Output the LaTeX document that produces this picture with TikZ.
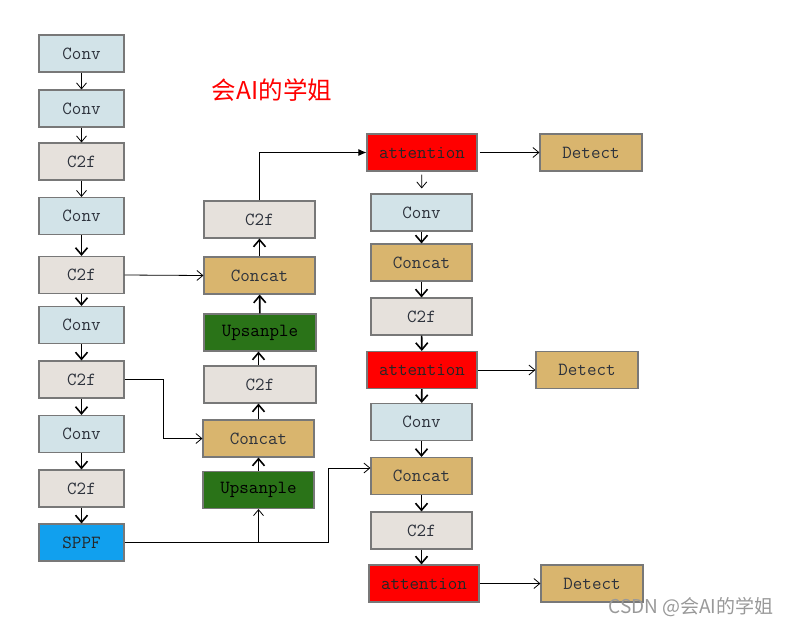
\documentclass[tikz,border=0pt]{standalone}
\usepackage{fontspec}
\newfontfamily\cjk{Noto Sans CJK SC}
\usetikzlibrary{arrows.meta}
\definecolor{convc}{RGB}{210,227,232}
\definecolor{cfc}{RGB}{230,225,220}
\definecolor{catc}{RGB}{217,181,110}
\definecolor{upc}{RGB}{42,115,24}
\definecolor{attc}{RGB}{255,0,0}
\definecolor{sppfc}{RGB}{17,160,238}
\definecolor{bordc}{RGB}{120,120,120}
\definecolor{txtc}{RGB}{45,50,60}
\tikzset{
  blk/.style={draw=bordc, line width=1.1pt, minimum height=37pt, inner sep=0pt,
    font=\ttfamily\fontsize{18.5}{21}\selectfont, text=txtc},
  convb/.style={blk, fill=convc, minimum width=85pt},
  cfb/.style={blk, fill=cfc, minimum width=85pt},
  sppfb/.style={blk, fill=sppfc, minimum width=85pt, text=black!85},
  upb/.style={blk, fill=upc, minimum width=111pt, text=black},
  catb/.style={blk, fill=catc, minimum width=111pt},
  attb/.style={blk, fill=attc, minimum width=110pt, text=black!85},
  detb/.style={blk, fill=catc, minimum width=102pt},
  thinar/.style={line width=0.8pt, -{Straight Barb[length=6pt,width=10pt]}},
  thickar/.style={line width=1.6pt, -{Straight Barb[length=7pt,width=12pt]}},
  filar/.style={line width=0.8pt, -{Latex[length=8pt,width=7pt]}},
}
\begin{document}
\begin{tikzpicture}[x=1pt,y=-1pt]
\fill[white] (0,0) rectangle (790,627);
\useasboundingbox (0,0) rectangle (790,627);
% left column
\node[convb] (l1) at (81.5,53.5) {Conv};
\node[convb] (l2) at (81.5,108.5) {Conv};
\node[cfb]   (l3) at (81.5,161.5) {C2f};
\node[convb] (l4) at (81.5,216) {Conv};
\node[cfb]   (l5) at (81.5,275) {C2f};
\node[convb] (l6) at (81.5,325) {Conv};
\node[cfb]   (l7) at (81.5,379.5) {C2f};
\node[convb] (l8) at (81.5,434) {Conv};
\node[cfb]   (l9) at (81.5,488.5) {C2f};
\node[sppfb] (sppf) at (81.5,542.5) {SPPF};
% middle column
\node[upb]  (m1) at (258.5,490) {Upsanple};
\node[catb] (m2) at (258.5,438.5) {Concat};
\node[cfb, minimum width=112pt] (m3) at (260,384.5) {C2f};
\node[upb, minimum width=112pt] (m4) at (260,332.5) {Upsanple};
\node[catb] (m5) at (259.5,275.5) {Concat};
\node[cfb, minimum width=111pt] (m6) at (259.5,219.5) {C2f};
% right column
\node[attb] (a1) at (422,152.5) {attention};
\node[detb] (d1) at (591,152.5) {Detect};
\node[convb, minimum width=101pt] (r1) at (421.5,212.5) {Conv};
\node[catb, minimum width=101pt]  (r2) at (421.5,262.5) {Concat};
\node[cfb, minimum width=101pt]   (r3) at (421.5,316.5) {C2f};
\node[attb] (a2) at (422,370) {attention};
\node[detb] (d2) at (587,370) {Detect};
\node[convb, minimum width=101pt] (r4) at (421.5,422) {Conv};
\node[catb, minimum width=101pt]  (r5) at (421.5,476) {Concat};
\node[cfb, minimum width=101pt]   (r6) at (421.5,530.5) {C2f};
\node[attb] (a3) at (424,583.5) {attention};
\node[detb] (d3) at (592,583.5) {Detect};
% title and watermark
\node[text=red, font=\cjk\fontsize{24.5}{28}\selectfont] (title) at (272,90) {会AI的学姐};
\node[text=black!40, font=\cjk\fontsize{19}{22}\selectfont] (wm) at (691,607) {CSDN @会AI的学姐};
% left column arrows
\draw[thinar] (l1) -- (l2);
\draw[thinar] (l2) -- (l3);
\draw[thinar] (l3) -- (l4);
\draw[thickar] (l4) -- (l5);
\draw[thickar] (l5) -- (l6);
\draw[thickar] (l6) -- (l7);
\draw[thickar] (l7) -- (l8);
\draw[thickar] (l8) -- (l9);
\draw[thickar] (l9) -- (sppf);
% cross connections
\draw[thinar] (l5.east) -- (m5.west);
\coordinate (k1) at (163,379.5);
\draw[thinar] (l7.east) -- (k1) |- (m2.west);
\coordinate (j1) at (328,468);
\coordinate (j0) at (m1.south |- sppf.east);
\draw[line width=0.8pt] (sppf.east) -| (j1);
\draw[thinar] (j1) -- (r5.west |- j1);
\draw[thinar] (j0) -- (m1.south);
% middle column arrows
\draw[thickar] (m1) -- (m2);
\draw[thickar] (m2.north) -- (m3.south -| m2.north);
\draw[thickar] (m3.north -| m2.north) -- (m4.south -| m2.north);
\draw[thickar] (m4) -- (m5);
\draw[thickar] (m5) -- (m6);
\draw[filar] (m6.north) |- (a1.west);
% right column arrows
\draw[thinar, shorten <=3pt, shorten >=5pt] (a1) -- (r1);
\draw[thickar] (r1) -- (r2);
\draw[thickar] (r2) -- (r3);
\draw[thickar] (r3) -- (a2);
\draw[thickar] (a2) -- (r4);
\draw[thickar] (r4) -- (r5);
\draw[thickar] (r5) -- (r6);
\draw[thickar] (r6) -- (a3.north -| r6.south);
\draw[thinar, shorten <=2pt] (a1) -- (d1);
\draw[thinar] (a2) -- (d2);
\draw[thinar] (a3) -- (d3);
\end{tikzpicture}
\end{document}
